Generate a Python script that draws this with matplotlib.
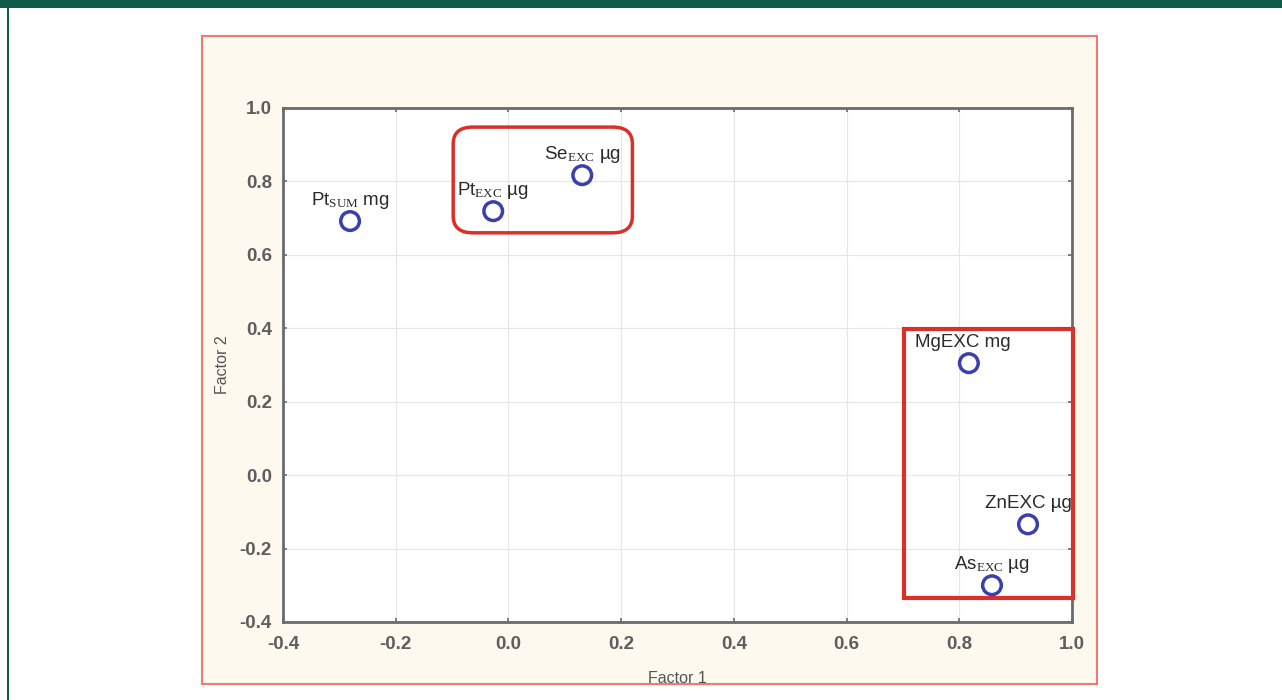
#!/usr/bin/env python3
"""Factor loadings plot (Factor 1 vs Factor 2) with highlighted groups."""
import matplotlib
matplotlib.use("Agg")
import matplotlib.pyplot as plt
from matplotlib.patches import Rectangle, FancyBboxPatch

plt.rcParams["font.family"] = ["Liberation Sans", "DejaVu Sans"]
plt.rcParams["mathtext.fontset"] = "custom"
plt.rcParams["mathtext.rm"] = "Liberation Serif"
plt.rcParams["mathtext.it"] = "Liberation Serif:italic"
plt.rcParams["mathtext.bf"] = "Liberation Serif:bold"

labels = [r"Pt$_{\mathrm{SUM}}$ mg", r"Pt$_{\mathrm{EXC}}$ µg", r"Se$_{\mathrm{EXC}}$ µg",
          "MgEXC mg", "ZnEXC µg", r"As$_{\mathrm{EXC}}$ µg"]
factor1 = [-0.281, -0.027, 0.131, 0.817, 0.922, 0.858]
factor2 = [0.692, 0.719, 0.817, 0.305, -0.134, -0.300]
label_dx = [0, 0, 0, -4, 0, 0]

xticks = [-0.4, -0.2, 0.0, 0.2, 0.4, 0.6, 0.8, 1.0]
yticks = [-0.4, -0.2, 0.0, 0.2, 0.4, 0.6, 0.8, 1.0]

fig = plt.figure(figsize=(12.82, 7.0), dpi=100)
fig.patch.set_facecolor("white")

# page decorations: green header bar and left rule
fig.add_artist(Rectangle((0, 1 - 8 / 700), 1, 8 / 700, transform=fig.transFigure,
                         facecolor="#0f5a48", edgecolor="none", zorder=-10))
fig.add_artist(Rectangle((7 / 1282, 0), 2 / 1282, 1, transform=fig.transFigure,
                         facecolor="#0f5a48", edgecolor="none", zorder=-10))
# cream panel with red frame
fig.add_artist(Rectangle((201.5 / 1282, 16 / 700), 895 / 1282, 648 / 700,
                         transform=fig.transFigure, facecolor="#fdf9ee",
                         edgecolor="#ee7a72", linewidth=1.5, zorder=-10))

ax = fig.add_axes([283 / 1282, 78 / 700, 789 / 1282, 514 / 700])
ax.set_facecolor("white")
ax.set_xlim(-0.4, 1.0)
ax.set_ylim(-0.4, 1.0)
ax.set_xticks(xticks)
ax.set_yticks(yticks)
ax.set_xticklabels([f"{t:.1f}" for t in xticks])
ax.set_yticklabels([f"{t:.1f}" for t in yticks])
ax.grid(True, color="#e6e6e6", linewidth=0.8)
ax.set_axisbelow(True)
for s in ax.spines.values():
    s.set_color("#6b6b6b")
    s.set_linewidth(2)
ax.tick_params(direction="in", length=3, width=1.2, color="#6b6b6b",
               top=True, right=True, labelsize=13.5, labelcolor="#5e5e5e")
ax.tick_params(axis="x", pad=10)
ax.tick_params(axis="y", pad=8)
for t in ax.get_xticklabels() + ax.get_yticklabels():
    t.set_fontweight("bold")

ax.set_xlabel("Factor 1", fontsize=11.5, color="#555555", labelpad=13)
ax.set_ylabel("Factor 2", fontsize=11.5, color="#555555", labelpad=7)

ax.scatter(factor1, factor2, s=180, facecolors="none", edgecolors="#3a3fae",
           linewidths=2.5, zorder=4, clip_on=False)
for lab, x, y, dx in zip(labels, factor1, factor2, label_dx):
    ax.annotate(lab, (x, y), xytext=(dx, 15), textcoords="offset points",
                ha="center", va="center", fontsize=13.5, color="#2a2a2a", zorder=5)

# highlighted groups
ax.add_patch(FancyBboxPatch((-0.098 + 0.03, 0.654 + 0.045), 0.318 - 0.06, 0.30 - 0.09,
                            boxstyle="round,pad=0.03,rounding_size=0.035",
                            mutation_aspect=1.3, facecolor="none",
                            edgecolor="#d9302a", linewidth=2.5, zorder=3,
                            clip_on=False))
ax.add_patch(Rectangle((0.702, -0.335), 0.300, 0.733, facecolor="none",
                       edgecolor="#d9302a", linewidth=3, zorder=3, clip_on=False))

fig.savefig("out.png", dpi=100)
print("wrote out.png")
